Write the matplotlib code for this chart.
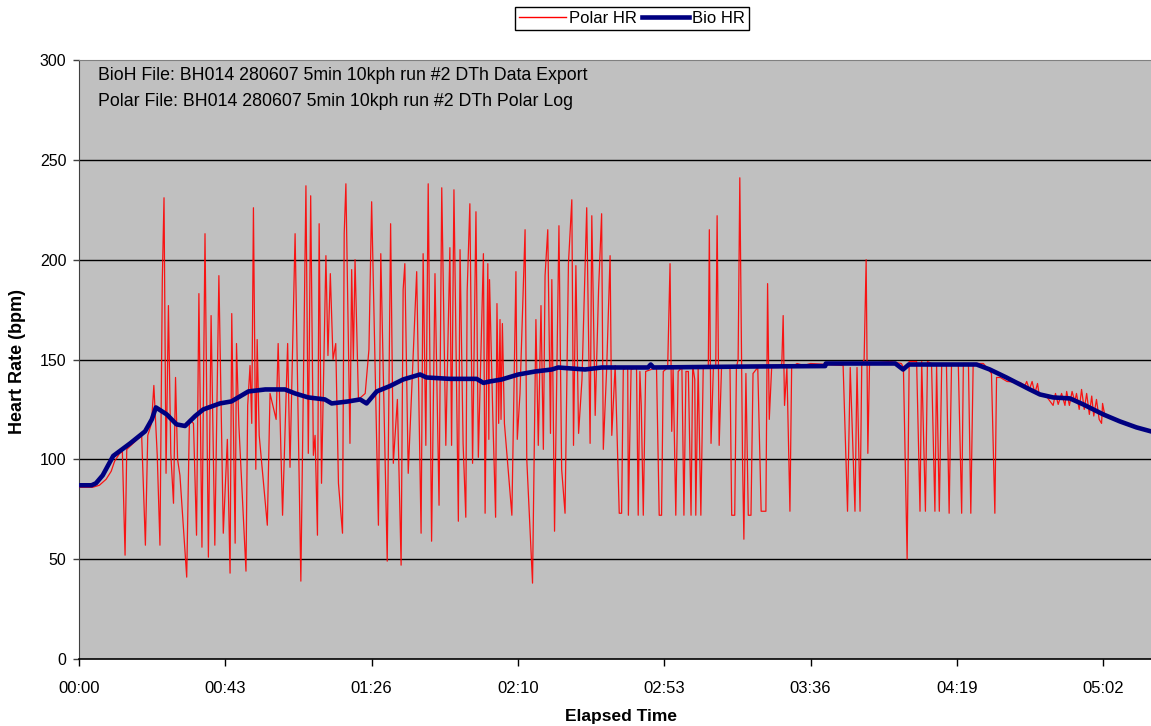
import matplotlib
matplotlib.use("Agg")
import matplotlib.pyplot as plt
from matplotlib.lines import Line2D

plt.rcParams['font.family'] = ['Liberation Sans', 'DejaVu Sans']

# ---------------- data ----------------
# Bio HR (seconds, bpm)
bio_t = [0, 3.7, 5, 7, 10.1, 15.1, 19.5, 21.5, 22.7, 25.9, 28.8, 31.3, 34.3, 36.7, 41.6, 45,
         50, 55, 60.8, 63.8, 67.7, 72.6, 74.6, 79.5, 83, 84.9, 87.9, 91.8, 95.7, 100.7, 102.6,
         109.5, 117.4, 119.4, 121.3, 124.8, 129.7, 134.7, 139.6, 141.5, 149.4, 154.3, 161.2,
         168, 168.8, 169.6, 199, 220.3, 220.5, 241, 243.3, 245, 265, 268.9, 273.8, 280.7,
         283.7, 287.6, 292.6, 296.5, 302.4, 307.3, 312.2, 316.5]
bio_hr = [87, 87, 88, 92, 101.7, 108, 114, 120, 126, 122.5, 117.5, 116.7, 121.7, 125, 128, 129,
          134, 135, 135, 133, 131, 130, 128, 129, 130, 128, 134, 136.7, 140, 142.5, 141,
          140.3, 140.3, 138.3, 139, 140, 142.5, 144, 145, 146, 145, 146, 146,
          146, 147.5, 146, 146.5, 146.7, 148, 148, 145, 147.5, 147.5, 145, 141, 135,
          132.5, 131, 130.5, 127.5, 122.5, 119, 116, 114]

# Polar HR (seconds, bpm)
polar_t = [0, 4, 6, 8, 9.5, 10.5, 12, 12.8, 13.6, 14.1, 16, 18.5, 19.6, 20.3, 21.4, 22.1, 23.1,
           23.9, 24.6, 25.1, 25.7, 26.4, 27.1, 27.9, 28.5, 29.1, 29.8, 31.8, 32.6, 33.8, 34.7,
           35.4, 36.3, 37.2, 38.2, 39.0, 40.1, 41.3, 42.6, 43.8, 44.6, 45.1, 46.1, 46.5, 47.2,
           49.3, 49.8, 50.5, 51.0, 51.5, 52.2, 52.6, 53.2, 55.6, 56.4, 58.2, 58.8, 60.1, 61.6,
           62.3, 63.8, 65.5, 67.0, 67.7, 68.4, 69.2, 69.7, 70.4, 70.9, 71.6, 72.9, 73.5, 74.2,
           75.0, 75.8, 76.6, 77.8, 78.3, 78.8, 80.0, 80.5, 81.0, 81.5, 82.5, 84.5, 85.6, 86.4,
           88.4, 89.1, 91.0, 92.0, 92.8, 94.0, 95.1, 95.7, 96.2, 97.2, 99.7, 101.0, 101.6,
           102.4, 103.1, 104.1, 105.1, 106.3, 107.1, 108.3, 109.5, 110.0, 110.7, 112.0, 112.5,
           113.4, 114.2, 114.6, 115.4, 116.2, 117.2, 117.9, 119.4, 119.9, 120.7, 121.0, 121.2,
           122.2, 123.0, 123.4, 123.9, 124.3, 124.6, 125.0, 125.6, 127.8, 129.0, 129.4, 130.2,
           131.7, 132.2, 133.9, 134.9, 135.6, 136.4, 137.1, 137.6, 138.4, 139.2, 139.6, 140.4,
           141.7, 142.5, 143.5, 144.5, 145.5, 146.0, 146.7, 147.5, 148.5, 149.9, 150.9, 151.4,
           152.4, 153.4, 154.3, 154.8, 155.8, 156.8, 157.3, 158.3, 159.5, 160.2, 160.7, 162.0,
           162.2, 163.0, 164.6, 165.1, 165.6, 166.0, 166.6, 167.3, 170.5, 171.3, 172.0, 172.5,
           173.8, 174.5, 175.0, 175.4, 176.2, 176.9, 178.0, 178.6, 179.2, 179.9, 180.7, 181.2,
           181.8, 182.1, 182.8, 183.6, 184.3, 185.8, 186.1, 186.6, 187.3, 188.0, 188.4, 189.0,
           189.7, 192.2, 192.7, 193.6, 194.1, 194.6, 195.1, 195.9, 196.3, 196.9, 197.6, 198.4,
           199.0, 200.4, 201.4, 202.8, 203.3, 203.8, 204.5, 206.5, 207.5, 207.9, 208.3, 209.0,
           209.9, 210.4, 212, 214, 216, 225.6, 226.9, 227.7, 229.1, 229.7, 230.6, 231.1, 231.8,
           232.4, 232.9, 233.4, 239.4, 242.8, 243.4, 244.5, 245.1, 247.3, 248.3, 248.8, 249.9,
           250.5, 251.7, 252.7, 253.2, 254.0, 254.7, 256.1, 256.9, 257.6, 259.6, 260.6, 261.1,
           262.6, 263.3, 264.0, 267.0, 269.4, 270.4, 270.9, 272, 274, 277.8, 279.3, 279.8,
           280.6, 281.4, 282.2, 283.0, 283.5, 285.2, 287.6, 288.3, 289.1, 290.1, 291.1, 291.6,
           292.4, 293.2, 294.0, 294.5, 295.3, 296.0, 296.8, 297.5, 298.3, 299.0, 299.6, 300.4,
           301.2, 301.9, 302.2, 302.9, 304, 307.3, 312.2, 316.5]
polar_hr = [86, 86, 87, 90, 94, 99, 103, 104, 52, 105, 108, 112, 57, 112, 118, 137, 102,
            57, 190, 231, 93, 177, 103, 78, 141, 100, 92, 41, 120, 118, 62,
            183, 56, 213, 51, 172, 57, 192, 63, 110, 43, 173, 58, 158, 117,
            44, 127, 147, 118, 226, 95, 160, 112, 67, 133, 120, 158, 72, 158,
            96, 213, 39, 237, 103, 232, 102, 112, 62, 218, 88, 202, 152, 193,
            150, 158, 88, 63, 213, 238, 108, 195, 150, 200, 130, 133, 155, 229,
            67, 203, 49, 218, 98, 130, 47, 185, 198, 93, 194, 63, 203,
            107, 238, 59, 193, 77, 236, 107, 206, 107, 235, 69, 205,
            108, 71, 184, 228, 98, 224, 101, 203, 73, 198, 110, 190,
            120, 71, 178, 118, 170, 120, 168, 118, 72, 194, 110, 133,
            215, 100, 38, 170, 107, 177, 105, 192, 215, 113, 190, 64,
            217, 95, 73, 198, 230, 107, 197, 113, 140, 226, 108, 222,
            122, 185, 223, 105, 146, 202, 112, 147, 73, 73, 145, 146,
            72, 145, 146, 72, 144, 127, 72, 144, 146, 72, 72, 144,
            146, 198, 114, 146, 72, 144, 146, 72, 144, 144, 72, 147,
            140, 72, 146, 72, 146, 147, 215, 108, 146, 147, 222, 107,
            146, 146, 72, 72, 146, 150, 241, 100, 60, 143, 72, 72,
            143, 146, 74, 74, 188, 120, 146, 146, 148, 172, 127, 146,
            74, 146, 148, 147, 148, 147, 74, 146, 74, 146, 74, 147, 150,
            200, 103, 148, 149, 148, 146, 50, 149, 149, 74, 149, 74,
            149, 148, 74, 147, 74, 147, 148, 73, 147, 148, 73, 148,
            148, 73, 148, 148, 143, 73, 141, 141, 139, 138.5, 137, 139,
            135, 139, 133, 138, 132, 132.5, 127, 133, 127.5, 133, 127, 134,
            127, 134, 129, 133, 125, 135, 125, 133, 122.5, 131.7, 121.7, 130,
            120, 118, 128, 121.7, 121, 119, 116, 114]

series_labels = ["Polar HR", "Bio HR"]
y_ticks = [0, 50, 100, 150, 200, 250, 300]
x_ticks = [0, 43.2, 86.4, 129.6, 172.8, 216.0, 259.2, 302.4]
x_tick_labels = ["00:00", "00:43", "01:26", "02:10", "02:53", "03:36", "04:19", "05:02"]
info_lines = ["BioH File: BH014 280607 5min 10kph run #2 DTh Data Export",
              "Polar File: BH014 280607 5min 10kph run #2 DTh Polar Log"]

# ---------------- figure ----------------
W, H = 1151, 726
fig = plt.figure(figsize=(W / 100, H / 100), dpi=100)
fig.patch.set_facecolor("white")
ax = fig.add_axes([79 / W, 1 - 659 / H, (W - 79) / W, (659 - 60) / H])
ax.set_facecolor("#C0C0C0")

ax.plot(polar_t, polar_hr, color="#FF0000", lw=0.9, alpha=0.9, zorder=3)
ax.plot(bio_t, bio_hr, color="#000080", lw=3.3, zorder=4, solid_joinstyle="round")

ax.set_xlim(0, 316.5)
ax.set_ylim(0, 300)
ax.set_yticks(y_ticks)
ax.set_xticks(x_ticks)
ax.set_xticklabels(x_tick_labels)
for y in y_ticks[1:-1]:
    ax.axhline(y, color="black", lw=1.0, zorder=1)

ax.spines["right"].set_visible(False)
ax.spines["top"].set_color("#808080")
ax.spines["left"].set_color("#404040")
ax.spines["bottom"].set_color("black")
ax.spines["bottom"].set_linewidth(1.2)
ax.tick_params(axis="y", direction="out", length=4, width=1, pad=5, labelsize=11.5, color="#404040")
ax.tick_params(axis="x", direction="out", length=5, width=1, pad=11, labelsize=12)

for i, line in enumerate(info_lines):
    ax.text(19 / (W - 79), (659 - 76 - 25 * i) / 599, line, transform=ax.transAxes,
            va="center", ha="left", fontsize=12.8, color="black", zorder=5)

fig.text(18 / W, 1 - 361 / H, "Heart Rate (bpm)", rotation=90, ha="center", va="center",
         fontsize=13, fontweight="bold")
fig.text(621 / W, 1 - 716 / H, "Elapsed Time", ha="center", va="center",
         fontsize=12.5, fontweight="bold")

handles = [Line2D([], [], color="#FF0000", lw=1.0), Line2D([], [], color="#000080", lw=3.3)]
leg = fig.legend(handles, series_labels, loc="upper center", bbox_to_anchor=(632 / W, 1 - 7 / H),
                 ncol=2, frameon=True, fancybox=False, edgecolor="black", framealpha=1,
                 fontsize=12, handlelength=2.8, handletextpad=0.2, columnspacing=0.3,
                 borderpad=0.25, borderaxespad=0)
leg.get_frame().set_linewidth(1.0)

fig.savefig("out.png", dpi=100, facecolor="white")
